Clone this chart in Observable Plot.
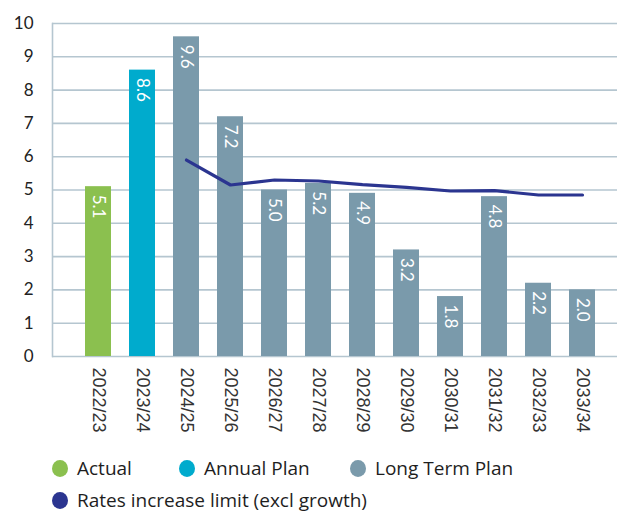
<!DOCTYPE html>
<html>
<head>
<meta charset="utf-8">
<script src="https://cdn.jsdelivr.net/npm/d3@7"></script>
<script src="https://cdn.jsdelivr.net/npm/@observablehq/plot@0.6"></script>
<style>
  html, body { margin: 0; padding: 0; background: #fff; }
  #wrap { width: 617px; height: 513px; position: relative; overflow: hidden; }
  #legend { position: relative; height: 68px; font-family: "Open Sans", "Noto Sans", sans-serif; font-size: 19px; line-height: 22px; color: #1e1e1e; }
  .item { position: absolute; display: flex; align-items: center; white-space: nowrap; }
  .dot { width: 16px; height: 17px; border-radius: 50%; margin-right: 9px; }
</style>
</head>
<body>
<div id="wrap">
  <div id="chart"></div>
  <div id="legend"></div>
</div>
<script>
const years = ["2022/23","2023/24","2024/25","2025/26","2026/27","2027/28","2028/29","2029/30","2030/31","2031/32","2032/33","2033/34"];
const values = [5.1, 8.6, 9.6, 7.2, 5.0, 5.2, 4.9, 3.2, 1.8, 4.8, 2.2, 2.0];
const labels = ["5.1","8.6","9.6","7.2","5.0","5.2","4.9","3.2","1.8","4.8","2.2","2.0"];
const types = ["Actual","Annual Plan","Long Term Plan","Long Term Plan","Long Term Plan","Long Term Plan","Long Term Plan","Long Term Plan","Long Term Plan","Long Term Plan","Long Term Plan","Long Term Plan"];
const limitYears = ["2024/25","2025/26","2026/27","2027/28","2028/29","2029/30","2030/31","2031/32","2032/33","2033/34"];
const limitValues = [5.9, 5.15, 5.3, 5.27, 5.16, 5.08, 4.97, 4.98, 4.85, 4.85];
const yTicks = [0,1,2,3,4,5,6,7,8,9,10];
const legendNames = ["Actual","Annual Plan","Long Term Plan","Rates increase limit (excl growth)"];
const legendColors = ["#8bc04f","#00abcd","#7a9aab","#2b3590"];

const bars = years.map((y, i) => ({year: y, value: values[i], label: labels[i], type: types[i]}));
const limit = limitYears.map((y, i) => ({year: y, value: limitValues[i]}));

const chart = Plot.plot({
  width: 617,
  height: 445,
  marginLeft: 52,
  marginRight: 0,
  marginTop: 23,
  marginBottom: 89,
  style: {background: "transparent"},
  x: {domain: years, range: [76, 604], paddingInner: 0.41, paddingOuter: 0.205, label: null},
  y: {domain: [0, 10], label: null},
  color: {domain: legendNames.slice(0, 3), range: legendColors.slice(0, 3)},
  marks: [
    Plot.ruleY(yTicks, {stroke: "#b5c6d0", strokeWidth: 1.6}),
    Plot.frame({anchor: "left", stroke: "#b5c6d0", strokeWidth: 1.6}),
    Plot.axisY(yTicks, {tickSize: 0, tickPadding: 19, fontSize: 17, fill: "#222", fontFamily: "Lato, sans-serif", label: null}),
    Plot.axisX({tickSize: 0, tickPadding: 11, tickRotate: 90, textAnchor: "start", fontSize: 18, fill: "#333", fontFamily: "Liberation Sans, Arial, sans-serif", label: null}),
    Plot.barY(bars, {x: "year", y: "value", fill: "type"}),
    Plot.text(bars, {x: "year", y: "value", text: "label", rotate: 90, textAnchor: "start", lineAnchor: "middle", dy: 8, fill: "white", fontSize: 17, fontFamily: "Lato, sans-serif"}),
    Plot.lineY(limit, {x: "year", y: "value", stroke: "#2b3590", strokeWidth: 3.2})
  ]
});
document.getElementById("chart").appendChild(chart);

const legend = document.getElementById("legend");
const pos = [[52, 23], [179, 23], [350, 23], [52, 55]];
legendNames.forEach((name, i) => {
  const it = document.createElement("div");
  it.className = "item";
  it.style.left = pos[i][0] + "px";
  it.style.top = (pos[i][1] - 11) + "px";
  it.style.height = "22px";
  const d = document.createElement("span");
  d.className = "dot";
  d.style.background = legendColors[i];
  const t = document.createElement("span");
  t.textContent = name;
  it.appendChild(d);
  it.appendChild(t);
  legend.appendChild(it);
});
</script>
</body>
</html>
